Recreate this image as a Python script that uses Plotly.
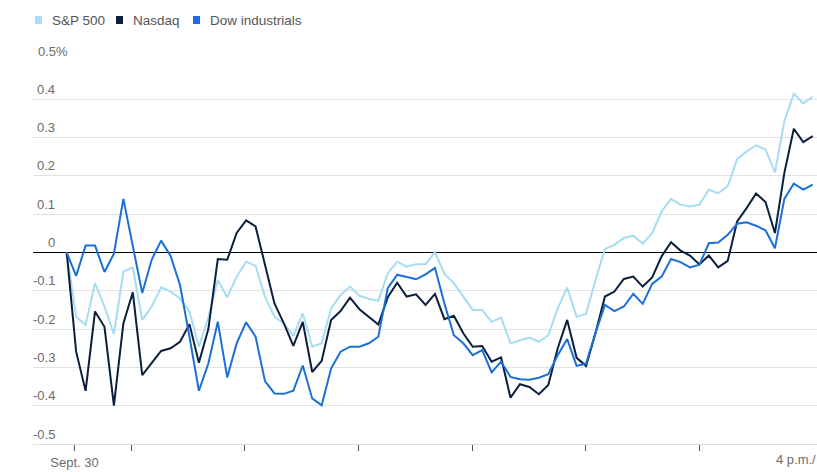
import plotly.graph_objects as go

# ---- data (percent change, 5-minute steps, Sept. 30 session) ----
sp500 = [0, -0.168, -0.189, -0.08, -0.141, -0.213, -0.05, -0.039, -0.176, -0.141,
         -0.091, -0.102, -0.12, -0.154, -0.246, -0.17, -0.072, -0.117, -0.063, -0.024,
         -0.035, -0.115, -0.168, -0.185, -0.218, -0.159, -0.246, -0.237, -0.146, -0.111,
         -0.089, -0.113, -0.121, -0.126, -0.054, -0.024, -0.037, -0.031, -0.031, 0.001,
         -0.056, -0.08, -0.115, -0.15, -0.15, -0.181, -0.17, -0.237, -0.229, -0.222,
         -0.233, -0.216, -0.146, -0.092, -0.168, -0.16, -0.072, 0.009, 0.02, 0.038,
         0.044, 0.023, 0.051, 0.107, 0.14, 0.125, 0.12, 0.125, 0.164, 0.155,
         0.173, 0.244, 0.264, 0.28, 0.269, 0.209, 0.343, 0.415, 0.389, 0.407]

nasdaq = [0, -0.259, -0.361, -0.154, -0.194, -0.4, -0.185, -0.104, -0.32, -0.29,
          -0.257, -0.25, -0.233, -0.187, -0.288, -0.2, -0.017, -0.019, 0.051, 0.084,
          0.068, -0.032, -0.133, -0.185, -0.244, -0.181, -0.312, -0.283, -0.176, -0.153,
          -0.118, -0.148, -0.169, -0.188, -0.117, -0.079, -0.115, -0.109, -0.137, -0.108,
          -0.174, -0.165, -0.211, -0.246, -0.244, -0.285, -0.274, -0.379, -0.344, -0.351,
          -0.37, -0.346, -0.25, -0.176, -0.275, -0.296, -0.21, -0.115, -0.102, -0.069,
          -0.063, -0.089, -0.065, -0.01, 0.027, 0.005, -0.008, -0.031, -0.008, -0.039,
          -0.022, 0.081, 0.116, 0.154, 0.132, 0.051, 0.208, 0.323, 0.288, 0.304]

dow = [0, -0.061, 0.018, 0.018, -0.051, -0.003, 0.14, 0.017, -0.106, -0.019,
       0.031, -0.009, -0.085, -0.22, -0.361, -0.29, -0.181, -0.326, -0.237, -0.182,
       -0.22, -0.336, -0.368, -0.369, -0.361, -0.295, -0.381, -0.399, -0.303, -0.259,
       -0.246, -0.246, -0.237, -0.22, -0.093, -0.058, -0.063, -0.07, -0.057, -0.04,
       -0.133, -0.216, -0.237, -0.268, -0.255, -0.313, -0.285, -0.325, -0.331, -0.332,
       -0.327, -0.318, -0.268, -0.226, -0.296, -0.29, -0.21, -0.137, -0.153, -0.141,
       -0.108, -0.134, -0.082, -0.063, -0.017, -0.025, -0.039, -0.032, 0.024, 0.026,
       0.046, 0.075, 0.079, 0.07, 0.058, 0.011, 0.14, 0.18, 0.164, 0.177]

series_names = ["S&P 500", "Nasdaq", "Dow industrials"]
series_colors = ["#a6dcf4", "#0b1f3e", "#1a6fd8"]

# time ticks (positions in 5-minute step units)
tick_positions = [0.83, 6.85, 18.88, 30.9, 42.93, 54.96, 66.99]
tick_labels = ["Sept. 30", "", "", "", "", "", ""]
last_label = "4 p.m./"

y_ticks = [0.5, 0.4, 0.3, 0.2, 0.1, 0, -0.1, -0.2, -0.3, -0.4, -0.5]
y_labels = ["0.5%", "0.4", "0.3", "0.2", "0.1", "0", "-0.1", "-0.2", "-0.3", "-0.4", "-0.5"]

# ---- layout geometry (page pixels) ----
W, H = 817, 472
PLOT_L, PLOT_R, PLOT_T, PLOT_B = 33, 817, 61, 444   # plot area
ML, MT = PLOT_L, PLOT_T
MR = W - PLOT_R
MB = H - PLOT_B
PW, PH = W - ML - MR, H - MT - MB


def px_x(px):
    return (px - PLOT_L) / PW


def px_y(py):
    return (PLOT_B - py) / PH


FONT = "Liberation Sans, Arial, sans-serif"
GRAY = "#6b6b6b"

fig = go.Figure()
x = list(range(len(sp500)))
for name, vals, col in zip(series_names, [sp500, nasdaq, dow], series_colors):
    fig.add_trace(go.Scatter(x=x, y=vals, mode="lines", name=name,
                             line=dict(color=col, width=2), showlegend=False,
                             hoverinfo="skip"))

annotations = []
shapes = []

# y labels sitting above gridlines
for v, lab in zip(y_ticks, y_labels):
    if lab.endswith("%"):
        annotations.append(dict(x=px_x(36), xref="paper", xanchor="left",
                                y=v, yref="y", yanchor="middle", yshift=10,
                                text=lab, showarrow=False,
                                font=dict(family=FONT, size=13, color=GRAY)))
    else:
        annotations.append(dict(x=px_x(57), xref="paper", xanchor="right",
                                y=v, yref="y", yanchor="middle", yshift=10,
                                text=lab, showarrow=False,
                                font=dict(family=FONT, size=13, color=GRAY)))

# last x label (cut by right edge)
annotations.append(dict(x=px_x(774), xref="paper", xanchor="left",
                        y=px_y(459), yref="paper", yanchor="middle",
                        text=last_label, showarrow=False,
                        font=dict(family=FONT, size=13, color=GRAY)))

# legend
leg_x = [35, 116, 193]
for lx, name, col in zip(leg_x, series_names, series_colors):
    shapes.append(dict(type="rect", xref="paper", yref="paper",
                       x0=px_x(lx), x1=px_x(lx + 7), y0=px_y(24), y1=px_y(16),
                       fillcolor=col, line=dict(width=0)))
    annotations.append(dict(x=px_x(lx + 15), xref="paper", xanchor="left",
                            y=px_y(20), yref="paper", yanchor="middle",
                            text=name, showarrow=False,
                            font=dict(family=FONT, size=13.5, color="#555555")))

STEP = 9.443
X_START = 66.7
x0 = (PLOT_L - X_START) / STEP
x1 = (PLOT_R - X_START) / STEP

fig.update_layout(
    width=W, height=H,
    margin=dict(l=ML, r=MR, t=MT, b=MB),
    paper_bgcolor="white", plot_bgcolor="white",
    font=dict(family=FONT, size=13, color=GRAY),
    hovermode=False,
    xaxis=dict(range=[x0, x1], tickmode="array", tickvals=tick_positions,
               ticktext=tick_labels, ticks="outside", ticklen=6, tickwidth=1,
               tickcolor="#555555", showgrid=False, zeroline=False,
               showline=True, linecolor="#dedede", linewidth=1,
               tickfont=dict(family=FONT, size=13, color=GRAY),
               ticklabeloverflow="allow", fixedrange=True),
    yaxis=dict(range=[-0.5, 0.5], tickmode="array", tickvals=y_ticks,
               showticklabels=False, showgrid=True, gridcolor="#e2e2e2",
               gridwidth=1, zeroline=True, zerolinecolor="#000000",
               zerolinewidth=1, showline=False, fixedrange=True),
    annotations=annotations,
    shapes=shapes,
)

fig.write_html(
    "out.html",
    config={"displayModeBar": False, "staticPlot": True},
    post_script="document.body.style.margin='0';"
                "document.documentElement.style.overflow='hidden';",
)
